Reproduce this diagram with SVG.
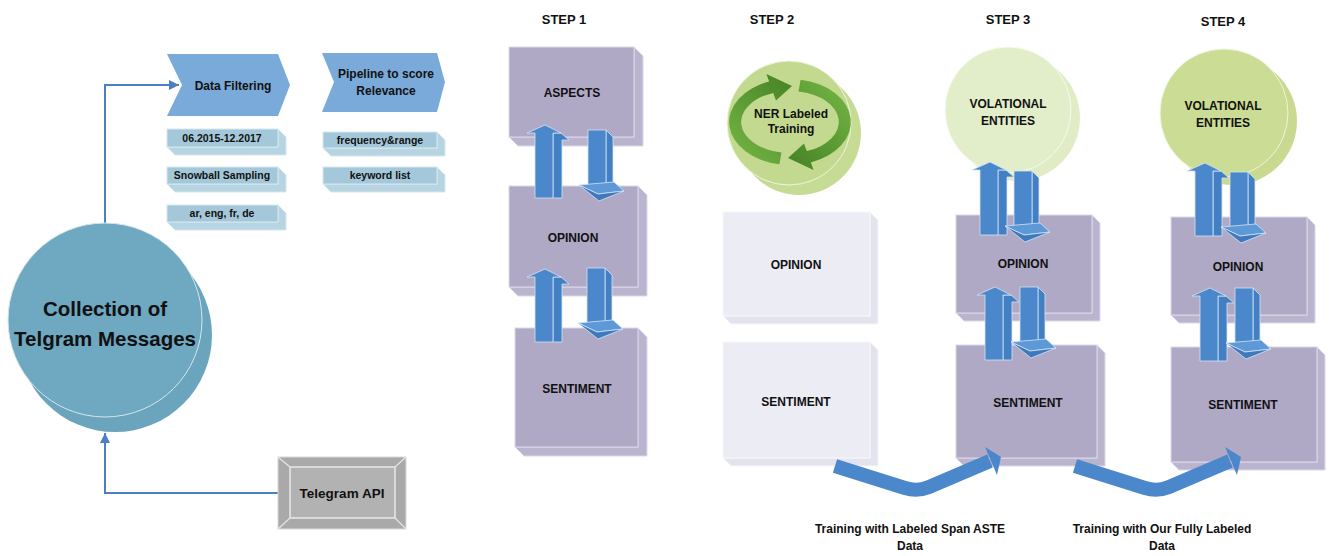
<svg xmlns="http://www.w3.org/2000/svg" xmlns:xlink="http://www.w3.org/1999/xlink" width="1332" height="556" viewBox="0 0 1332 556">
<style>
.t{font-family:"Liberation Sans",Arial,sans-serif;font-weight:bold;font-size:12px;fill:#111;text-anchor:middle}
.ts{font-size:10.5px}
.tb{font-size:20.5px}
.pf{fill:#afa9c6;stroke:#dcd8ea;stroke-width:1}
.ps{fill:#bab4cf;stroke:#dcd8ea;stroke-width:1}
.lf{fill:#ececf5;stroke:#f6f6fb;stroke-width:1}
.ls{fill:#e3e3ee;stroke:#f6f6fb;stroke-width:1}
.bf{fill:#a4c8d9;stroke:#d6e7ef;stroke-width:1}
.bs{fill:#b6d4e2;stroke:#d6e7ef;stroke-width:1}
.chev{fill:#79aad9}
.conn{fill:none;stroke:#4a7fc4;stroke-width:2}
.af{fill:#4a87cb;stroke:#d3e3f5;stroke-width:0.8}
.as{fill:#4380c3;stroke:#d3e3f5;stroke-width:0.8}
.ah{fill:#5d98d7;stroke:#d3e3f5;stroke-width:0.8}
.ad{fill:#3e79bd;stroke:#d3e3f5;stroke-width:0.8}
.big{fill:none;stroke:#4a87cb;stroke-width:14;stroke-linejoin:round}
</style>
<defs>
<marker id="mk" markerUnits="userSpaceOnUse" markerWidth="10" markerHeight="10" refX="10" refY="5" orient="auto">
<path d="M0,0 L10,5 L0,10 z" fill="#4a7fc4"/>
</marker>
<g id="up">
<path class="as" d="M16 8 L24 15 L17 15 L17 73 L8 73 L8 8 Z"/>
<path class="af" d="M0 0 L16 8 L8 8 L8 73 L-10 73 L-10 8 L-18 8 Z"/>
</g>
<g id="down">
<path class="as" d="M18 0 L25 7 L25 55 L18 56 Z"/>
<path class="af" d="M0 0 L18 0 L18 56 L0 56 Z"/>
<path class="ah" d="M-9 55 L26 52 L36 61 L10 64 Z"/>
<path class="ad" d="M-9 55 L10 64 L36 61 L11 71 Z"/>
</g>
<linearGradient id="ga" x1="0" y1="1" x2="0.7" y2="0">
<stop offset="0" stop-color="#78b845"/>
<stop offset="1" stop-color="#4a8829"/>
</linearGradient>
</defs>

<!-- connectors -->
<g id="connectors">
<path class="conn" d="M105 225 L105 85 L179 85" marker-end="url(#mk)"/>
<path class="conn" d="M278 493 L105 493 L105 433" marker-end="url(#mk)"/>
</g>

<!-- left side -->
<g id="collection">
<circle cx="115" cy="335" r="97" fill="#6aa4bd"/>
<circle cx="105" cy="320" r="97" fill="#6fa8c1" stroke="#d6e6ee" stroke-width="1"/>
<text class="t tb" x="105" y="316">Collection of</text>
<text class="t tb" x="105" y="346">Telgram Messages</text>
</g>

<g id="telegram-api">
<rect x="278" y="457" width="128" height="72" fill="#a9a9a9" stroke="#d8d8d8" stroke-width="1"/>
<path d="M278 457 L290 467 M406 457 L395 467 M278 529 L290 518 M406 529 L395 518" stroke="#e6e6e6" stroke-width="1.2"/>
<rect x="290" y="467" width="105" height="51" fill="#b2b2b2" stroke="#e8e8e8" stroke-width="1.5"/>
<text class="t" style="font-size:13.5px" x="342" y="498">Telegram API</text>
</g>

<g id="data-filtering">
<path class="chev" d="M167 54 L278 54 L290 85 L278 116 L167 116 L182 85 Z"/>
<text class="t" x="233" y="90">Data Filtering</text>
</g>

<g id="pipeline">
<path class="chev" d="M322 53 L437 53 L445 82 L437 112 L322 112 L334 82 Z"/>
<text class="t" x="386" y="78">Pipeline to score</text>
<text class="t" x="386" y="95">Relevance</text>
</g>

<g id="date-range">
<path class="bs" d="M278 129 L286 137 L286 155 L175 155 L167 147 L278 147 Z"/>
<rect class="bf" x="167" y="129" width="111" height="18"/>
<text class="t ts" x="222" y="142">06.2015-12.2017</text>
</g>
<g id="snowball">
<path class="bs" d="M278 167 L286 175 L286 192 L175 192 L167 184 L278 184 Z"/>
<rect class="bf" x="167" y="167" width="111" height="17"/>
<text class="t ts" x="222" y="179">Snowball Sampling</text>
</g>
<g id="languages">
<path class="bs" d="M278 205 L286 213 L286 230 L175 230 L167 222 L278 222 Z"/>
<rect class="bf" x="167" y="205" width="111" height="17"/>
<text class="t ts" x="222" y="217">ar, eng, fr, de</text>
</g>
<g id="frequency">
<path class="bs" d="M437 132 L445 140 L445 156 L331 156 L323 148 L437 148 Z"/>
<rect class="bf" x="323" y="132" width="114" height="16"/>
<text class="t ts" x="380" y="144">frequency&amp;range</text>
</g>
<g id="keyword">
<path class="bs" d="M437 167 L445 175 L445 192 L331 192 L323 184 L437 184 Z"/>
<rect class="bf" x="323" y="167" width="114" height="17"/>
<text class="t ts" x="380" y="179">keyword list</text>
</g>

<!-- step titles -->
<g id="titles">
<text class="t" style="font-size:13px" x="564" y="24">STEP 1</text>
<text class="t" style="font-size:13px" x="772" y="24">STEP 2</text>
<text class="t" style="font-size:13px" x="1008" y="24">STEP 3</text>
<text class="t" style="font-size:13px" x="1223" y="26">STEP 4</text>
</g>

<!-- STEP 1 -->
<g id="s1-aspects">
<path class="ps" d="M634 47 L643 56 L643 146 L518 146 L509 137 L634 137 Z"/>
<rect class="pf" x="509" y="47" width="125" height="90"/>
<text class="t" x="572" y="97">ASPECTS</text>
</g>
<g id="s1-opinion">
<path class="ps" d="M638 186 L647 195 L647 296 L518 296 L509 287 L638 287 Z"/>
<rect class="pf" x="509" y="186" width="129" height="101"/>
<text class="t" x="573" y="242">OPINION</text>
</g>
<g id="s1-sentiment">
<path class="ps" d="M638 328 L647 337 L647 456 L524 456 L515 447 L638 447 Z"/>
<rect class="pf" x="515" y="328" width="123" height="119"/>
<text class="t" x="577" y="393">SENTIMENT</text>
</g>

<!-- STEP 2 -->
<g id="s2-ner">
<circle cx="799" cy="133" r="62" fill="#c6dc95"/>
<circle cx="789" cy="123" r="62" fill="#c3d98f" stroke="#eef5e0" stroke-width="1"/>
<path fill="url(#ga)" d="M779.4 164.3 A61 43 0 0 1 769.1 81.6 L766.4 74.1 L792 86 L776 100.4 L773.2 92.9 A49 31 0 0 0 781.5 152.5 Z"/>
<path fill="url(#ga)" transform="rotate(180 790 122)" d="M779.4 164.3 A61 43 0 0 1 769.1 81.6 L766.4 74.1 L792 86 L776 100.4 L773.2 92.9 A49 31 0 0 0 781.5 152.5 Z"/>
<text class="t" x="791" y="118">NER Labeled</text>
<text class="t" x="791" y="133">Training</text>
</g>
<g id="s2-opinion">
<path class="ls" d="M870 212 L878 220 L878 324 L731 324 L723 316 L870 316 Z"/>
<rect class="lf" x="723" y="212" width="147" height="104"/>
<text class="t" x="796" y="269">OPINION</text>
</g>
<g id="s2-sentiment">
<path class="ls" d="M870 342 L878 350 L878 466 L731 466 L723 458 L870 458 Z"/>
<rect class="lf" x="723" y="342" width="147" height="116"/>
<text class="t" x="796" y="406">SENTIMENT</text>
</g>

<!-- STEP 3 -->
<g id="s3-entities">
<circle cx="1017" cy="118" r="63" fill="#e0ecc6"/>
<circle cx="1008" cy="110" r="63" fill="#e2eeca" stroke="#f7fbef" stroke-width="1"/>
<text class="t" x="1008" y="108">VOLATIONAL</text>
<text class="t" x="1008" y="125">ENTITIES</text>
</g>
<g id="s3-opinion">
<path class="ps" d="M1092 215 L1100 223 L1100 321 L964 321 L956 313 L1092 313 Z"/>
<rect class="pf" x="956" y="215" width="136" height="98"/>
<text class="t" x="1023" y="268">OPINION</text>
</g>
<g id="s3-sentiment">
<path class="ps" d="M1097 345 L1105 353 L1105 466 L964 466 L956 458 L1097 458 Z"/>
<rect class="pf" x="956" y="345" width="141" height="113"/>
<text class="t" x="1028" y="407">SENTIMENT</text>
</g>

<!-- STEP 4 -->
<g id="s4-entities">
<circle cx="1233" cy="121" r="64" fill="#c9da90"/>
<circle cx="1224" cy="113" r="64" fill="#cbdc94" stroke="#eef5dd" stroke-width="1"/>
<text class="t" x="1223" y="110">VOLATIONAL</text>
<text class="t" x="1223" y="127">ENTITIES</text>
</g>
<g id="s4-opinion">
<path class="ps" d="M1307 217 L1315 225 L1315 323 L1179 323 L1171 315 L1307 315 Z"/>
<rect class="pf" x="1171" y="217" width="136" height="98"/>
<text class="t" x="1238" y="271">OPINION</text>
</g>
<g id="s4-sentiment">
<path class="ps" d="M1317 347 L1325 355 L1325 470 L1179 470 L1171 462 L1317 462 Z"/>
<rect class="pf" x="1171" y="347" width="146" height="115"/>
<text class="t" x="1243" y="409">SENTIMENT</text>
</g>

<!-- block arrows -->
<g id="block-arrows">
<use xlink:href="#up" href="#up" transform="translate(545,125)"/>
<use xlink:href="#down" href="#down" transform="translate(588,130)"/>
<use xlink:href="#up" href="#up" transform="translate(545,269)"/>
<use xlink:href="#down" href="#down" transform="translate(587,268)"/>
<use xlink:href="#up" href="#up" transform="translate(990,162)"/>
<use xlink:href="#down" href="#down" transform="translate(1014,171)"/>
<use xlink:href="#up" href="#up" transform="translate(995,287)"/>
<use xlink:href="#down" href="#down" transform="translate(1020,287)"/>
<use xlink:href="#up" href="#up" transform="translate(1205,163)"/>
<use xlink:href="#down" href="#down" transform="translate(1230,172)"/>
<use xlink:href="#up" href="#up" transform="translate(1210,288)"/>
<use xlink:href="#down" href="#down" transform="translate(1235,288)"/>
</g>

<!-- training arrows -->
<g id="training-arrows">
<g id="train1">
<path class="big" d="M835 466 L905 488 Q917 492 929 487 L990 461"/>
<path d="M985 447 L1001 457 L997 475 Z" fill="#4a87cb"/>
</g>
<g id="train2" transform="translate(240,0)">
<path class="big" d="M835 466 L905 488 Q917 492 929 487 L990 461"/>
<path d="M985 447 L1001 457 L997 475 Z" fill="#4a87cb"/>
</g>
</g>

<g id="training-labels">
<text class="t" x="910" y="533">Training with Labeled Span ASTE</text>
<text class="t" x="910" y="550">Data</text>
<text class="t" x="1162" y="533">Training with Our Fully Labeled</text>
<text class="t" x="1162" y="550">Data</text>
</g>
</svg>
